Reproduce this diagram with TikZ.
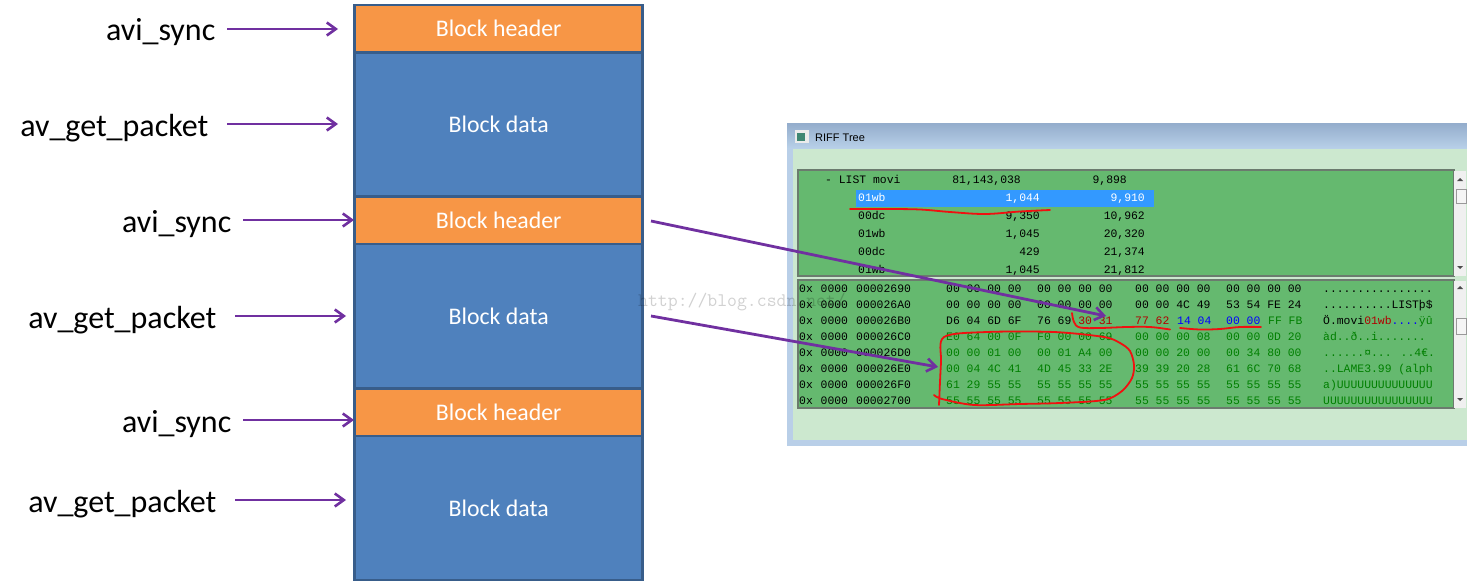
\documentclass[tikz,border=0pt]{standalone}
\usepackage{fontspec}
\setmainfont{Carlito}
\newfontfamily\hexfont{Liberation Mono}
\newfontfamily\uifont{Liberation Sans}
\usetikzlibrary{arrows.meta}
\definecolor{orangeblk}{HTML}{F79646}
\definecolor{blueblk}{HTML}{4F81BD}
\definecolor{blueedge}{HTML}{385D8A}
\definecolor{arrowpurple}{HTML}{7030A0}
\definecolor{panelgreen}{HTML}{65B96F}
\definecolor{palegreen}{HTML}{CCE8CF}
\definecolor{framegray}{HTML}{6B7B6E}
\definecolor{selblue}{HTML}{3399FF}
\definecolor{hexgreen}{HTML}{007F00}
\definecolor{hexred}{HTML}{B00000}
\definecolor{inkred}{HTML}{F01010}
\definecolor{titletop}{HTML}{95AECD}
\definecolor{titlebot}{HTML}{B9D1E9}
\definecolor{sidebar}{HTML}{B9CFE8}
\tikzset{
  block/.style={draw=blueedge,line width=2.6pt,outer sep=0pt,minimum width=288pt,anchor=north west,inner sep=0pt,text=white,font=\fontsize{23.8}{26}\selectfont},
  hdr/.style={block,fill=orangeblk,minimum height=47.5pt},
  dat/.style={block,fill=blueblk,minimum height=144pt},
  lbl/.style={anchor=east,inner sep=0pt,font=\fontsize{32}{34}\selectfont,text=black},
  parrow/.style={draw=arrowpurple,line width=2.8pt,-{Straight Barb[length=9pt,width=13pt,line width=2.6pt]}},
  hex/.style={anchor=west,inner sep=0pt,text height=7.5pt,text depth=0pt,font=\hexfont\fontsize{11.4}{12}\selectfont,text=black},
  hexg/.style={hex,text=hexgreen},
  ink/.style={draw=inkred,line width=1.8pt,line cap=round,line join=round},
  panel/.style={draw=framegray,line width=1.4pt,fill=panelgreen},
  scrollbar/.style={fill=black!6,draw=none}
}
\newcommand{\hexrow}[3]{\node[hex] at (799,#1) {0x};\node[hex] at (820.5,#1) {0000};\node[hex] at (856,#1) {#2};\node[hex] at (1323,#1) {#3};}
\begin{document}
\begin{tikzpicture}[x=1pt,y=-1pt]
\useasboundingbox (0,0) rectangle (1467,583);
\fill[white] (0,0) rectangle (1467,583);
% window
\fill[sidebar] (787,149) rectangle (1467,446);
\shade[top color=titletop,bottom color=titlebot] (787,124) rectangle (1467,149);
\fill[palegreen] (793,149) rectangle (1467,440);
\fill[black!8] (795,130) rectangle (809,143);
\fill[black!60!cyan!60!green] (797,133) rectangle (805,141);
\node[anchor=west,inner sep=0pt,font=\uifont\fontsize{11}{12}\selectfont] (title) at (815,138) {RIFF Tree};
\fill[panel] (798,170) rectangle (1454,276);
\fill[panel] (798,280) rectangle (1454,408);
\fill[scrollbar] (1454,171) rectangle (1466,276);
\fill[scrollbar] (1454,281) rectangle (1466,408);
\fill[black!4,draw=black!40] (1456,189) rectangle (1466,203);
\fill[black!4,draw=black!40] (1456,318) rectangle (1466,334);
\fill[black!70] (1460,178) -- (1463,181) -- (1457,181) -- cycle;
\fill[black!70] (1457,266) -- (1463,266) -- (1460,269) -- cycle;
\fill[black!70] (1460,286) -- (1463,289) -- (1457,289) -- cycle;
\fill[black!70] (1457,398) -- (1463,398) -- (1460,401) -- cycle;
% tree
\fill[selblue] (856,189.5) rectangle (1154,207);
\node[hex] at (825,180) {- LIST movi};
\node[hex,anchor=east] at (1021,180) {81,143,038};
\node[hex,anchor=east] at (1127,180) {9,898};
\node[hex,text=white] at (858,198) {01wb};
\node[hex,text=white,anchor=east] at (1040,198) {1,044};
\node[hex,text=white,anchor=east] at (1145,198) {9,910};
\node[hex] at (858,216) {00dc};\node[hex,anchor=east] at (1040,216) {9,350};\node[hex,anchor=east] at (1145,216) {10,962};
\node[hex] at (858,234) {01wb};\node[hex,anchor=east] at (1040,234) {1,045};\node[hex,anchor=east] at (1145,234) {20,320};
\node[hex] at (858,252) {00dc};\node[hex,anchor=east] at (1040,252) {429};\node[hex,anchor=east] at (1145,252) {21,374};
\node[hex] at (858,270) {01wb};\node[hex,anchor=east] at (1040,270) {1,045};\node[hex,anchor=east] at (1145,270) {21,812};
% hex dump
\hexrow{289}{00002690}{................}
\hexrow{305}{000026A0}{..........LISTþ\$}
\hexrow{321}{000026B0}{Ö.movi{\color{hexred}01wb}{\color{blue}....}{\color{hexgreen}ÿû}}
\hexrow{337}{000026C0}{{\color{hexgreen}àd..ð..i.......}}
\hexrow{353}{000026D0}{{\color{hexgreen}......¤... ..4€.}}
\hexrow{369}{000026E0}{{\color{hexgreen}..LAME3.99 (alph}}
\hexrow{385}{000026F0}{{\color{hexgreen}a)UUUUUUUUUUUUUU}}
\hexrow{401}{00002700}{{\color{hexgreen}UUUUUUUUUUUUUUUU}}
\foreach \yy/\a/\b/\c/\d in {289/00 00 00 00/00 00 00 00/00 00 00 00/00 00 00 00,305/00 00 00 00/00 00 00 00/00 00 4C 49/53 54 FE 24}{
  \node[hex] at (946,\yy) {\a};
  \node[hex] at (1037,\yy) {\b};
  \node[hex] at (1135,\yy) {\c};
  \node[hex] at (1226,\yy) {\d};
}
\node[hex] at (946,321) {D6 04 6D 6F};
\node[hex] at (1037,321) {76 69 {\color{hexred}30 31}};
\node[hex,text=hexred] at (1135,321) {77 62};
\node[hex,text=blue] at (1177,321) {14 04};
\node[hex,text=blue] at (1226,321) {00 00};
\node[hexg] at (1268,321) {FF FB};
\foreach \yy/\a/\b/\c/\d in {337/E0 64 00 0F/F0 00 00 69/00 00 00 08/00 00 0D 20,353/00 00 01 00/00 01 A4 00/00 00 20 00/00 34 80 00,369/00 04 4C 41/4D 45 33 2E/39 39 20 28/61 6C 70 68,385/61 29 55 55/55 55 55 55/55 55 55 55/55 55 55 55,401/55 55 55 55/55 55 55 55/55 55 55 55/55 55 55 55}{
  \node[hexg] at (946,\yy) {\a};
  \node[hexg] at (1037,\yy) {\b};
  \node[hexg] at (1135,\yy) {\c};
  \node[hexg] at (1226,\yy) {\d};
}
% red ink
\draw[ink] plot[smooth,tension=0.6] coordinates {(850,209) (885,209) (920,209.5) (950,212) (985,214) (1020,211.5) (1050,210)};
\draw[ink] plot[smooth,tension=0.6] coordinates {(1072,313) (1074,322) (1080,327.5) (1100,328) (1127,327) (1150,327) (1170,329.5)};
\draw[ink] plot[smooth,tension=0.6] coordinates {(1180,328) (1200,329.5) (1220,329) (1240,327) (1261,327)};
\draw[ink] plot[smooth,tension=0.5] coordinates {(934,395) (942,399) (974,405) (1020,404) (1060,403) (1104,400) (1122,391) (1132,378) (1134,365) (1130,351) (1120,343) (1104,337) (1054,332) (987,332) (944,337) (941,363) (939,405)};
% blocks
\node[hdr] (h1) at (354.7,4.9) {Block header};
\node[dat] (d1) at (354.7,52.4) {Block data};
\node[hdr] (h2) at (354.7,196.5) {Block header};
\node[dat] (d2) at (354.7,244) {Block data};
\node[hdr] (h3) at (354.7,388.4) {Block header};
\node[dat] (d3) at (354.7,436) {Block data};
% labels
\node[lbl] (l1) at (215.5,32) {avi\_sync};
\node[lbl] (l2) at (208.5,128) {av\_get\_packet};
\node[lbl] (l3) at (231.5,224) {avi\_sync};
\node[lbl] (l4) at (216.5,320) {av\_get\_packet};
\node[lbl] (l5) at (231.5,424) {avi\_sync};
\node[lbl] (l6) at (216.5,504) {av\_get\_packet};
\coordinate (t1) at (338,29);
\coordinate (t2) at (338,124);
\coordinate (t3) at (354,220);
\coordinate (t4) at (346,316);
\coordinate (t5) at (354,420);
\coordinate (t6) at (346,500);
\coordinate (s1) at (227,29);
\coordinate (s2) at (227,124);
\coordinate (s3) at (243,220);
\coordinate (s4) at (235,316);
\coordinate (s5) at (243,420);
\coordinate (s6) at (235,500);
\foreach \i in {1,...,6}{\draw[parrow] (s\i) -- (t\i);}
\coordinate (hx) at (651,221);
\coordinate (hy) at (1106,316);
\coordinate (dx) at (651,316);
\coordinate (dy) at (938,367);
\draw[parrow] (hx) -- (hy);
\draw[parrow] (dx) -- (dy);
% watermark
\node[anchor=west,inner sep=0pt,font=\ttfamily\fontsize{19.2}{20}\selectfont,text=black,opacity=0.18] (wm) at (638,302) {http://blog.csdn.net/};
\end{tikzpicture}
\end{document}
